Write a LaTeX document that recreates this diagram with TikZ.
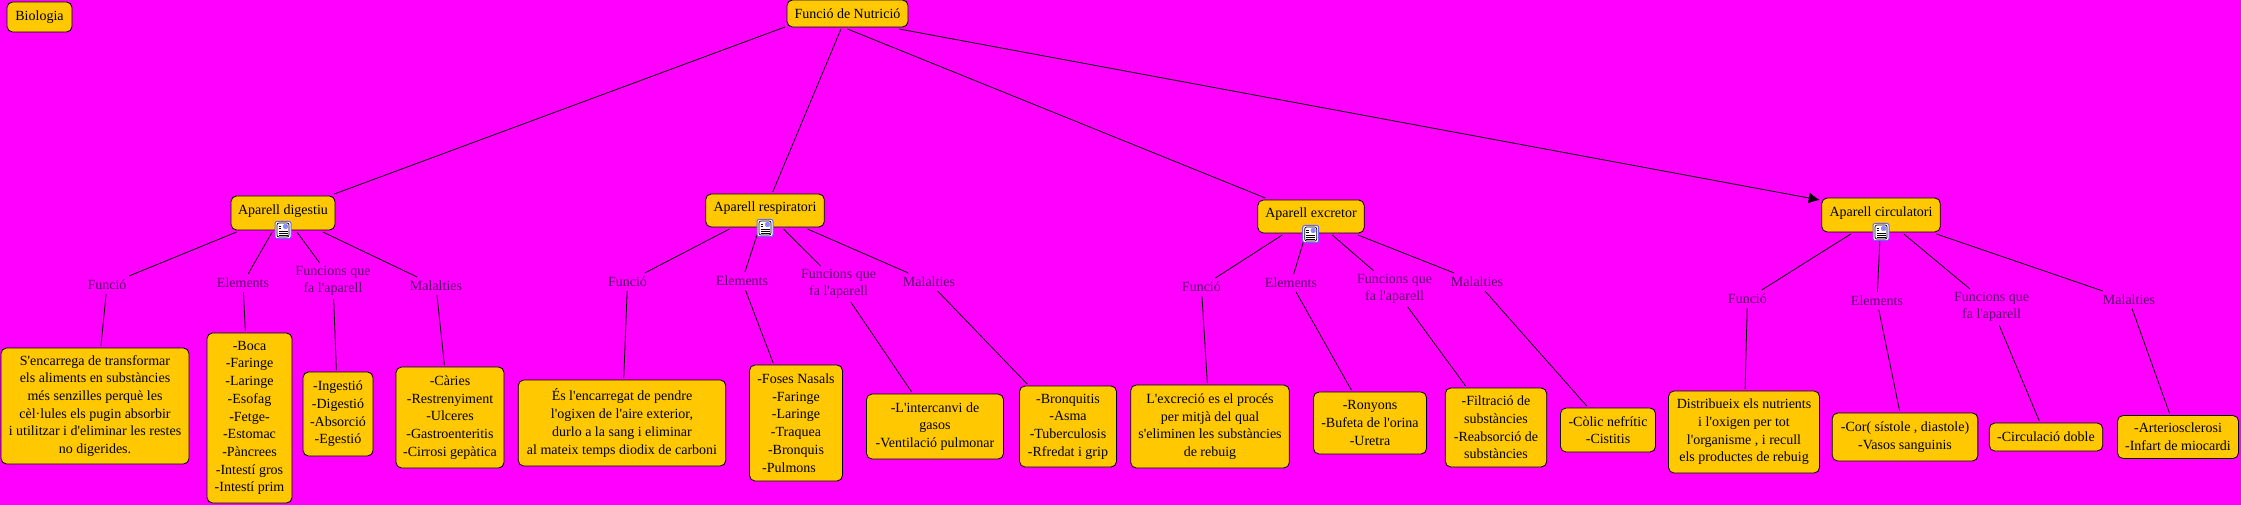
\documentclass[tikz,border=0pt]{standalone}
\usepackage{fontspec}
\setmainfont{Liberation Serif}
\usetikzlibrary{arrows.meta}
\definecolor{fons}{RGB}{255,0,255}
\definecolor{caixa}{RGB}{255,200,0}
\definecolor{lila}{RGB}{90,0,105}
\newcommand{\ap}{\textquotesingle{}}
\tikzset{
  every node/.style={font=\fontsize{14}{17.7}\selectfont},
  mida/.style 2 args={minimum width=#1pt,minimum height=#2pt},
  caixa/.style={draw=black,fill=caixa,line width=.8pt,rounded corners=5.5pt,align=center,inner sep=0pt,outer sep=2pt},
  aparell/.style={caixa,text height=10pt,text depth=7pt},
  etiqueta/.style={text=lila,align=center,inner xsep=3pt,inner ysep=3pt,outer sep=0pt,minimum height=18pt},
  linia/.style={draw=black,line width=.8pt},
  docicon/.style={draw=blue!60!white,fill=white,rounded corners=2pt,line width=1pt,inner sep=0pt,minimum width=16pt,minimum height=17pt,
    path picture={
      \begin{scope}[shift={(path picture bounding box.center)}]
        \draw[black,line width=.7pt] (-6,-7) rectangle (6,7);
        \fill[blue!45!white] (0,-6) rectangle (5,-1);
        \foreach \y in {-4,-1.5} {
          \draw[black,line width=.8pt] (-4.5,\y) -- (-2,\y);
        }
        \foreach \y in {1,3,5} {
          \draw[black,line width=.8pt] (-4.5,\y) -- (4.5,\y);
        }
      \end{scope}
    }},
}

\begin{document}
\begin{tikzpicture}[x=1pt,y=-1pt]
    \useasboundingbox (0,0) rectangle (2241,505);
    \fill[fons] (0,0) rectangle (2241,505);

    \node[caixa,mida={65}{30}] (biologia) at (39.5,17) {Biologia};
    \node[caixa,mida={121}{27}] (N) at (847.5,13.5) {Funció de Nutrició};

    \begin{scope}
      \node[aparell,mida={104}{34}] (D) at (283,213) {Aparell digestiu};
      \node[etiqueta] (D1) at (107,285) {Funció};
      \node[etiqueta] (D2) at (243,283) {Elements};
      \node[etiqueta] (D3) at (333,281) {Funcions que\\fa l\ap aparell};
      \node[etiqueta] (D4) at (436,286) {Malalties};
      \node[caixa,mida={188}{116}] (Dc1) at (95,406) {S\ap encarrega de transformar\\els aliments en substàncies\\més senzilles perquè les\\cèl·lules els pugin absorbir\\i utilitzar i d\ap eliminar les restes\\no digerides.};
      \node[caixa,mida={85}{170}] (Dc2) at (249.5,418) {-Boca\\-Faringe\\-Laringe\\-Esofag\\-Fetge-\\-Estomac\\-Pàncrees\\-Intestí gros\\-Intestí prim};
      \node[caixa,mida={70}{84}] (Dc3) at (338,414) {-Ingestió\\-Digestió\\-Absorció\\-Egestió};
      \node[caixa,mida={108}{101}] (Dc4) at (450,417.5) {-Càries\\-Restrenyiment\\-Ulceres\\-Gastroenteritis\\-Cirrosi gepàtica};
      \foreach \i in {1,...,4} {
        \draw[linia] (D) -- (D\i);
        \draw[linia] (D\i) -- (Dc\i);
      }
      \node[docicon] (Dicon) at (283,230) {};
    \end{scope}

    \begin{scope}
      \node[aparell,mida={118.6}{33}] (R) at (765,210.5) {Aparell respiratori};
      \node[etiqueta] (R1) at (627.5,282) {Funció};
      \node[etiqueta] (R2) at (742,281) {Elements};
      \node[etiqueta] (R3) at (838.6,284) {Funcions que\\fa l\ap aparell};
      \node[etiqueta] (R4) at (929,282) {Malalties};
      \node[caixa,mida={207.5}{86}] (Rc1) at (622,423) {És l\ap encarregat de pendre\\l\ap ogixen de l\ap aire exterior,\\durlo a la sang i eliminar\\al mateix temps diodix de carboni};
      \node[caixa,mida={93}{116}] (Rc2) at (796,423) {-Foses Nasals\\-Faringe\\-Laringe\\-Traquea\\-Bronquis\\-Pulmons\hspace*{14pt}};
      \node[caixa,mida={137}{65}] (Rc3) at (935,426.5) {-L\ap intercanvi de\\gasos\\-Ventilació pulmonar};
      \node[caixa,mida={97}{81}] (Rc4) at (1068,426.5) {-Bronquitis\\-Asma\\-Tuberculosis\\-Rfredat i grip};
      \foreach \i in {1,...,4} {
        \draw[linia] (R) -- (R\i);
        \draw[linia] (R\i) -- (Rc\i);
      }
      \node[docicon] (Ricon) at (765,228) {};
    \end{scope}

    \begin{scope}
      \node[aparell,mida={106.4}{33}] (E) at (1311,216.5) {Aparell excretor};
      \node[etiqueta] (E1) at (1201.4,287) {Funció};
      \node[etiqueta] (E2) at (1291,283) {Elements};
      \node[etiqueta] (E3) at (1394.6,289) {Funcions que\\fa l\ap aparell};
      \node[etiqueta] (E4) at (1477,282) {Malalties};
      \node[caixa,mida={158.6}{83}] (Ec1) at (1210,426.5) {L\ap excreció es el procés\\per mitjà del qual\\s\ap eliminen les substàncies\\de rebuig};
      \node[caixa,mida={113}{62}] (Ec2) at (1370,423) {-Ronyons\\-Bufeta de l\ap orina\\-Uretra};
      \node[caixa,mida={101.4}{79}] (Ec3) at (1496,427.5) {-Filtració de\\substàncies\\-Reabsorció de\\substàncies};
      \node[caixa,mida={95}{44}] (Ec4) at (1608,430) {-Còlic nefrític\\-Cistitis};
      \foreach \i in {1,...,4} {
        \draw[linia] (E) -- (E\i);
        \draw[linia] (E\i) -- (Ec\i);
      }
      \node[docicon] (Eicon) at (1310.7,234) {};
    \end{scope}

    \begin{scope}
      \node[aparell,mida={118.6}{34}] (C) at (1881,215) {Aparell circulatori};
      \node[etiqueta] (C1) at (1747.4,299) {Funció};
      \node[etiqueta] (C2) at (1877,301) {Elements};
      \node[etiqueta] (C3) at (1991.6,307) {Funcions que\\fa l\ap aparell};
      \node[etiqueta] (C4) at (2129,300) {Malalties};
      \node[caixa,mida={151}{82}] (Cc1) at (1744,432) {Distribueix els nutrients\\i l\ap oxigen per tot\\l\ap organisme , i recull\\els productes de rebuig};
      \node[caixa,mida={145.7}{48}] (Cc2) at (1905,437) {-Cor( sístole , diastole)\\-Vasos sanguinis};
      \node[caixa,mida={113.4}{28}] (Cc3) at (2046,437) {-Circulació doble};
      \node[caixa,mida={121}{43}] (Cc4) at (2178,437) {-Arteriosclerosi\\-Infart de miocardi};
      \foreach \i in {1,...,4} {
        \draw[linia] (C) -- (C\i);
        \draw[linia] (C\i) -- (Cc\i);
      }
      \node[docicon] (Cicon) at (1881,232) {};
    \end{scope}

    \draw[linia] ([yshift=2pt]N.south west) -- (D);
    \draw[linia] (N) -- (R);
    \draw[linia] (N.south) -- (E);
    \draw[linia,-{Latex[length=11pt,width=11pt]}] ([xshift=-11pt]N.south east) -- ([yshift=-4pt]C.north west);
  \end{tikzpicture}
\end{document}
